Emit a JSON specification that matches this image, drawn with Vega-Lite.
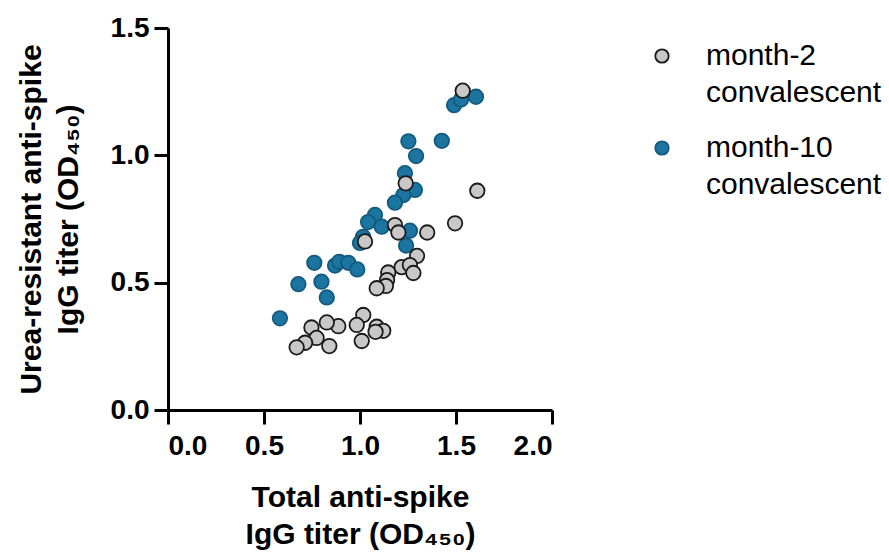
{
  "$schema": "https://vega.github.io/schema/vega-lite/v6.json",
  "width": 384,
  "height": 382,
  "autosize": "none",
  "padding": {"left": 168, "top": 28, "right": 337, "bottom": 149},
  "background": "white",
  "config": {
    "view": {"stroke": null},
    "font": "Liberation Sans",
    "style": {"guide-label": {"lineHeight": 37}},
    "axis": {
      "grid": false,
      "domainColor": "black",
      "domainWidth": 3,
      "tickColor": "black",
      "tickWidth": 3,
      "tickSize": 14,
      "labelFont": "Liberation Sans",
      "labelFontWeight": "bold",
      "labelFontSize": 28,
      "labelColor": "black",
      "titleFont": "Liberation Sans",
      "titleFontWeight": "bold",
      "titleFontSize": 30,
      "titleColor": "black",
      "titleLineHeight": 37
    }
  },
  "data": {
    "values": [
      {"group": "month-10 convalescent", "total": 1.490, "urea": 1.197},
      {"group": "month-10 convalescent", "total": 1.526, "urea": 1.219},
      {"group": "month-10 convalescent", "total": 1.604, "urea": 1.230},
      {"group": "month-10 convalescent", "total": 1.252, "urea": 1.055},
      {"group": "month-10 convalescent", "total": 1.426, "urea": 1.057},
      {"group": "month-10 convalescent", "total": 1.292, "urea": 0.997},
      {"group": "month-10 convalescent", "total": 1.234, "urea": 0.930},
      {"group": "month-10 convalescent", "total": 1.286, "urea": 0.864},
      {"group": "month-10 convalescent", "total": 1.226, "urea": 0.844},
      {"group": "month-10 convalescent", "total": 1.182, "urea": 0.814},
      {"group": "month-10 convalescent", "total": 1.078, "urea": 0.766},
      {"group": "month-10 convalescent", "total": 1.042, "urea": 0.738},
      {"group": "month-10 convalescent", "total": 1.113, "urea": 0.720},
      {"group": "month-10 convalescent", "total": 1.260, "urea": 0.704},
      {"group": "month-10 convalescent", "total": 1.016, "urea": 0.680},
      {"group": "month-10 convalescent", "total": 1.000, "urea": 0.656},
      {"group": "month-10 convalescent", "total": 1.240, "urea": 0.646},
      {"group": "month-10 convalescent", "total": 0.762, "urea": 0.578},
      {"group": "month-10 convalescent", "total": 0.870, "urea": 0.567},
      {"group": "month-10 convalescent", "total": 0.892, "urea": 0.582},
      {"group": "month-10 convalescent", "total": 0.939, "urea": 0.578},
      {"group": "month-10 convalescent", "total": 0.986, "urea": 0.552},
      {"group": "month-10 convalescent", "total": 0.679, "urea": 0.494},
      {"group": "month-10 convalescent", "total": 0.799, "urea": 0.504},
      {"group": "month-10 convalescent", "total": 0.827, "urea": 0.442},
      {"group": "month-10 convalescent", "total": 0.583, "urea": 0.360},
      {"group": "month-2 convalescent", "total": 1.535, "urea": 1.254},
      {"group": "month-2 convalescent", "total": 1.238, "urea": 0.890},
      {"group": "month-2 convalescent", "total": 1.611, "urea": 0.861},
      {"group": "month-2 convalescent", "total": 1.495, "urea": 0.733},
      {"group": "month-2 convalescent", "total": 1.182, "urea": 0.726},
      {"group": "month-2 convalescent", "total": 1.200, "urea": 0.697},
      {"group": "month-2 convalescent", "total": 1.350, "urea": 0.697},
      {"group": "month-2 convalescent", "total": 1.026, "urea": 0.662},
      {"group": "month-2 convalescent", "total": 1.297, "urea": 0.605},
      {"group": "month-2 convalescent", "total": 1.217, "urea": 0.561},
      {"group": "month-2 convalescent", "total": 1.260, "urea": 0.569},
      {"group": "month-2 convalescent", "total": 1.278, "urea": 0.538},
      {"group": "month-2 convalescent", "total": 1.147, "urea": 0.540},
      {"group": "month-2 convalescent", "total": 1.141, "urea": 0.510},
      {"group": "month-2 convalescent", "total": 1.135, "urea": 0.487},
      {"group": "month-2 convalescent", "total": 1.087, "urea": 0.478},
      {"group": "month-2 convalescent", "total": 1.017, "urea": 0.373},
      {"group": "month-2 convalescent", "total": 0.983, "urea": 0.334},
      {"group": "month-2 convalescent", "total": 0.887, "urea": 0.329},
      {"group": "month-2 convalescent", "total": 0.827, "urea": 0.344},
      {"group": "month-2 convalescent", "total": 0.747, "urea": 0.324},
      {"group": "month-2 convalescent", "total": 1.087, "urea": 0.327},
      {"group": "month-2 convalescent", "total": 1.121, "urea": 0.311},
      {"group": "month-2 convalescent", "total": 1.081, "urea": 0.307},
      {"group": "month-2 convalescent", "total": 0.774, "urea": 0.283},
      {"group": "month-2 convalescent", "total": 0.714, "urea": 0.264},
      {"group": "month-2 convalescent", "total": 0.670, "urea": 0.246},
      {"group": "month-2 convalescent", "total": 0.840, "urea": 0.251},
      {"group": "month-2 convalescent", "total": 1.009, "urea": 0.271}
    ]
  },
  "mark": {"type": "circle", "size": 210, "opacity": 1, "strokeWidth": 1.8},
  "encoding": {
    "x": {
      "field": "total",
      "type": "quantitative",
      "scale": {"domain": [0, 2], "nice": false, "zero": false},
      "axis": {
        "values": [0, 0.5, 1, 1.5, 2],
        "format": ".1f",
        "labelPadding": 8,
        "titlePadding": 22,
        "title": ["Total anti-spike", "IgG titer (OD₄₅₀)"]
      }
    },
    "y": {
      "field": "urea",
      "type": "quantitative",
      "scale": {"domain": [0, 1.5], "nice": false, "zero": false},
      "axis": {
        "values": [0, 0.5, 1, 1.5],
        "format": ".1f",
        "labelPadding": 5,
        "titlePadding": 27,
        "title": ["Urea-resistant anti-spike", "IgG titer (OD₄₅₀)"]
      }
    },
    "fill": {
      "field": "group",
      "type": "nominal",
      "scale": {"domain": ["month-2 convalescent", "month-10 convalescent"], "range": ["#c8c8c8", "#1b75a0"]},
      "legend": {
        "orient": "none",
        "legendX": 479,
        "legendY": 13,
        "title": null,
        "padding": 0,
        "labelExpr": "split(datum.label, ' ')",
        "labelFont": "Liberation Sans",
        "labelFontSize": 30,
        "labelColor": "black",
        "labelBaseline": "middle",
        "labelOffset": 29,
        "labelLimit": 400,
        "symbolSize": 180,
        "symbolStrokeWidth": 1.8,
        "rowPadding": 25,
        "encode": {"labels": {"enter": {"lineHeight": {"value": 37}}, "update": {"lineHeight": {"value": 37}}}}
      }
    },
    "stroke": {
      "field": "group",
      "type": "nominal",
      "scale": {"domain": ["month-2 convalescent", "month-10 convalescent"], "range": ["#1a1a1a", "#135a7e"]},
      "legend": {
        "orient": "none",
        "legendX": 479,
        "legendY": 13,
        "title": null,
        "padding": 0,
        "labelExpr": "split(datum.label, ' ')",
        "labelFont": "Liberation Sans",
        "labelFontSize": 30,
        "labelColor": "black",
        "labelBaseline": "middle",
        "labelOffset": 29,
        "labelLimit": 400,
        "symbolSize": 180,
        "symbolStrokeWidth": 1.8,
        "rowPadding": 25,
        "encode": {"labels": {"enter": {"lineHeight": {"value": 37}}, "update": {"lineHeight": {"value": 37}}}}
      }
    }
  }
}
